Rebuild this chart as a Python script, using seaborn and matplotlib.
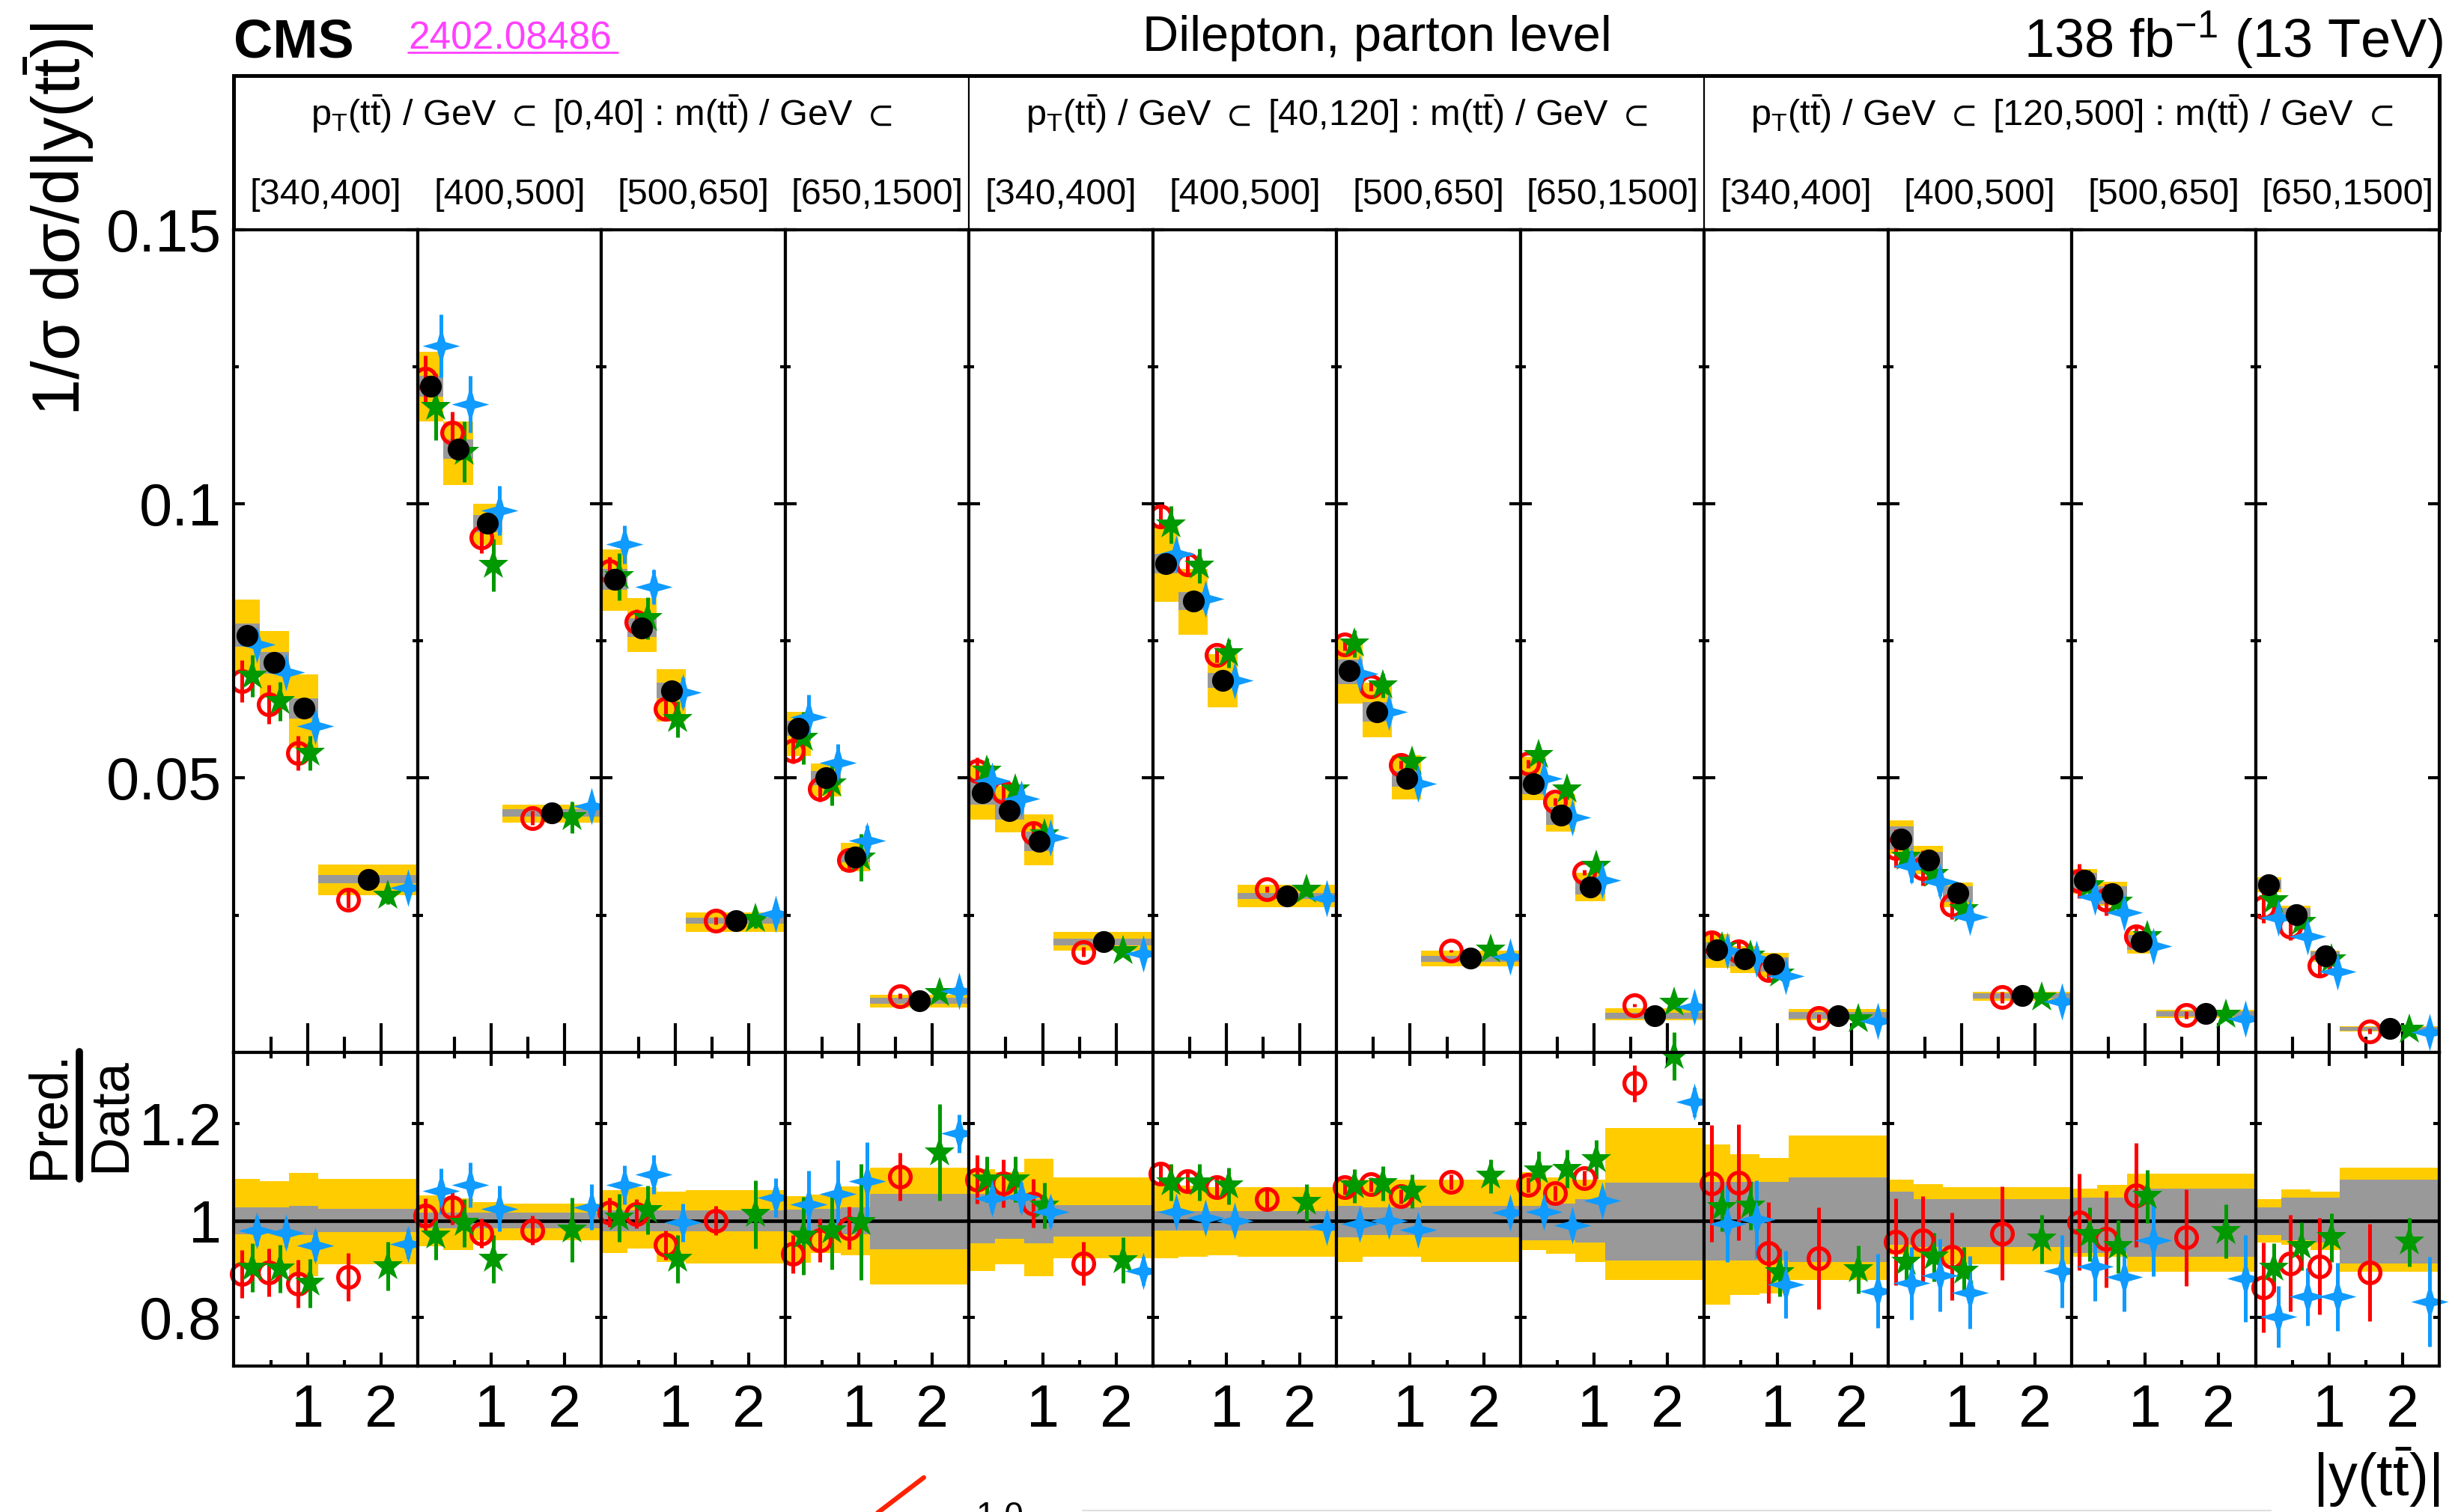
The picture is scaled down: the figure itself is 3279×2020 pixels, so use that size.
import numpy as np
import matplotlib
matplotlib.use("Agg")
import matplotlib.pyplot as plt
from matplotlib.path import Path
from matplotlib.lines import Line2D
import seaborn as sns

# ---------------------------------------------------------------- data
pt_bins = ["[0,40]", "[40,120]", "[120,500]"]
mtt_bins = ["[340,400]", "[400,500]", "[500,650]", "[650,1500]"]
y_edges = [0.0, 0.35, 0.75, 1.15, 2.5]

# normalised cross section 1/sigma dsigma/d|y(tt)|, one row per (pT, m) panel
data_xsec = [
    [0.0760, 0.0710, 0.0627, 0.0315],
    [0.1214, 0.1100, 0.0964, 0.0436],
    [0.0862, 0.0774, 0.0659, 0.0240],
    [0.0591, 0.0500, 0.0356, 0.0094],
    [0.0473, 0.0441, 0.0385, 0.0201],
    [0.0891, 0.0822, 0.0678, 0.0285],
    [0.0695, 0.0621, 0.0499, 0.0171],
    [0.0490, 0.0432, 0.0301, 0.0067],
    [0.0186, 0.0170, 0.0160, 0.0067],
    [0.0389, 0.0350, 0.0290, 0.0103],
    [0.0313, 0.0289, 0.0201, 0.0070],
    [0.0306, 0.0251, 0.0175, 0.0043],
]

# relative total uncertainty (up / down)
tot_up = [
    [0.086, 0.081, 0.099, 0.086], [0.052, 0.046, 0.038, 0.036],
    [0.063, 0.069, 0.060, 0.063], [0.051, 0.054, 0.071, 0.110],
    [0.106, 0.100, 0.128, 0.090], [0.075, 0.072, 0.070, 0.070],
    [0.085, 0.085, 0.085, 0.085], [0.100, 0.090, 0.085, 0.192],
    [0.157, 0.138, 0.130, 0.176], [0.085, 0.075, 0.069, 0.069],
    [0.066, 0.074, 0.097, 0.097], [0.044, 0.065, 0.060, 0.110],
]
tot_dn = [
    [0.090, 0.090, 0.115, 0.090], [0.053, 0.060, 0.040, 0.040],
    [0.066, 0.057, 0.085, 0.088], [0.087, 0.067, 0.072, 0.132],
    [0.104, 0.090, 0.114, 0.077], [0.078, 0.074, 0.072, 0.074],
    [0.085, 0.075, 0.075, 0.085], [0.061, 0.069, 0.086, 0.123],
    [0.173, 0.154, 0.150, 0.123], [0.070, 0.075, 0.090, 0.090],
    [0.075, 0.075, 0.105, 0.105], [0.045, 0.050, 0.060, 0.105],
]
# relative statistical uncertainty (up / down)
stat_up = [
    [0.028, 0.027, 0.030, 0.024], [0.016, 0.016, 0.016, 0.016],
    [0.022, 0.022, 0.022, 0.022], [0.023, 0.025, 0.028, 0.056],
    [0.056, 0.049, 0.044, 0.032], [0.020, 0.020, 0.020, 0.020],
    [0.030, 0.028, 0.028, 0.030], [0.031, 0.035, 0.044, 0.079],
    [0.080, 0.080, 0.080, 0.090], [0.060, 0.045, 0.045, 0.045],
    [0.047, 0.047, 0.066, 0.066], [0.027, 0.047, 0.047, 0.085],
]
stat_dn = [
    [0.028, 0.027, 0.030, 0.024], [0.016, 0.016, 0.016, 0.016],
    [0.022, 0.022, 0.022, 0.022], [0.023, 0.025, 0.028, 0.059],
    [0.046, 0.038, 0.046, 0.033], [0.020, 0.020, 0.020, 0.020],
    [0.035, 0.030, 0.030, 0.035], [0.040, 0.040, 0.045, 0.082],
    [0.082, 0.082, 0.082, 0.085], [0.050, 0.055, 0.055, 0.055],
    [0.066, 0.066, 0.075, 0.075], [0.030, 0.040, 0.045, 0.088],
]

# prediction / data ratios and their uncertainties
ratio_pwg_py8 = [
    [0.890, 0.893, 0.870, 0.884], [1.011, 1.027, 0.974, 0.980],
    [1.017, 1.014, 0.950, 1.000], [0.931, 0.959, 0.985, 1.091],
    [1.085, 1.077, 1.036, 0.911], [1.097, 1.082, 1.069, 1.044],
    [1.069, 1.075, 1.050, 1.080], [1.074, 1.057, 1.088, 1.284],
    [1.077, 1.079, 0.934, 0.923], [0.956, 0.960, 0.926, 0.974],
    [0.997, 0.962, 1.053, 0.965], [0.862, 0.912, 0.906, 0.893],
]
err_pwg_py8 = [
    [0.050, 0.050, 0.050, 0.050], [0.035, 0.035, 0.030, 0.030],
    [0.030, 0.030, 0.030, 0.030], [0.040, 0.045, 0.044, 0.049],
    [0.050, 0.050, 0.050, 0.045], [0.020, 0.020, 0.020, 0.020],
    [0.015, 0.015, 0.015, 0.015], [0.015, 0.015, 0.015, 0.038],
    [0.120, 0.120, 0.105, 0.105], [0.090, 0.090, 0.090, 0.097],
    [0.100, 0.100, 0.107, 0.100], [0.093, 0.100, 0.100, 0.100],
]
ratio_pwg_h7 = [
    [0.903, 0.901, 0.871, 0.906], [0.969, 0.995, 0.921, 0.981],
    [1.006, 1.022, 0.921, 1.013], [0.969, 0.979, 0.997, 1.141],
    [1.085, 1.085, 1.031, 0.918], [1.079, 1.079, 1.072, 1.038],
    [1.072, 1.077, 1.061, 1.092], [1.104, 1.107, 1.126, 1.340],
    [1.028, 1.031, 0.893, 0.899], [0.915, 0.925, 0.896, 0.962],
    [0.972, 0.947, 1.050, 0.978], [0.903, 0.947, 0.965, 0.956],
]
err_pwg_h7 = [
    [0.050, 0.050, 0.050, 0.050], [0.050, 0.050, 0.050, 0.066],
    [0.050, 0.050, 0.050, 0.070], [0.080, 0.080, 0.120, 0.100],
    [0.047, 0.047, 0.047, 0.047], [0.038, 0.038, 0.038, 0.038],
    [0.035, 0.035, 0.035, 0.035], [0.040, 0.040, 0.040, 0.050],
    [0.050, 0.050, 0.050, 0.050], [0.050, 0.050, 0.050, 0.050],
    [0.055, 0.055, 0.055, 0.055], [0.050, 0.050, 0.050, 0.050],
]
ratio_mg5 = [
    [0.979, 0.975, 0.948, 0.952], [1.061, 1.074, 1.025, 1.028],
    [1.074, 1.096, 0.996, 1.048], [1.033, 1.055, 1.082, 1.180],
    [1.046, 1.049, 1.018, 0.896], [1.019, 1.006, 1.000, 0.987],
    [0.994, 1.000, 0.981, 1.016], [1.019, 0.991, 1.041, 1.245],
    [0.994, 1.003, 0.868, 0.855], [0.871, 0.887, 0.852, 0.896],
    [0.906, 0.884, 0.959, 0.881], [0.802, 0.843, 0.843, 0.833],
]
err_mg5 = [
    [0.030, 0.030, 0.030, 0.030], [0.047, 0.047, 0.047, 0.047],
    [0.040, 0.040, 0.040, 0.040], [0.070, 0.070, 0.080, 0.040],
    [0.030, 0.030, 0.030, 0.030], [0.015, 0.015, 0.015, 0.015],
    [0.020, 0.020, 0.020, 0.020], [0.020, 0.020, 0.020, 0.030],
    [0.080, 0.080, 0.070, 0.077], [0.075, 0.075, 0.075, 0.075],
    [0.072, 0.072, 0.074, 0.090], [0.063, 0.060, 0.070, 0.093],
]

# ---------------------------------------------------------------- style
sns.set_theme(style="ticks")
plt.rcParams.update({
    "font.family": ["Liberation Sans", "DejaVu Sans"],
    "mathtext.fontset": "custom",
    "mathtext.rm": "Liberation Sans",
    "mathtext.it": "Liberation Sans",
    "mathtext.bf": "Liberation Sans:bold",
    "mathtext.default": "regular",
    "mathtext.fallback": "stixsans",
    "axes.edgecolor": "black",
    "text.color": "black",
    "xtick.color": "black",
    "ytick.color": "black",
    "axes.linewidth": 3.0,
})

YELLOW = "#ffcc00"
GRAY = "#999999"
RED = "#ff0000"
GREEN = "#009900"
BLUE = "#0f9bff"
TICK_FS = 57

star4 = Path(
    [(0, 1), (0.22, 0.22), (1, 0), (0.22, -0.22), (0, -1), (-0.22, -0.22),
     (-1, 0), (-0.22, 0.22), (0, 1)],
    [Path.MOVETO] + [Path.LINETO] * 7 + [Path.CLOSEPOLY],
)

predictions = [
    (ratio_pwg_py8, err_pwg_py8, -0.2,
     dict(marker="o", ms=20, mfc="none", mec=RED, mew=3.8), RED),
    (ratio_pwg_h7, err_pwg_h7, 0.2,
     dict(marker="*", ms=31, mfc=GREEN, mec=GREEN, mew=0), GREEN),
    (ratio_mg5, err_mg5, 0.4,
     dict(marker=star4, ms=36, mfc=BLUE, mec=BLUE, mew=0), BLUE),
]

# ---------------------------------------------------------------- layout
fig = plt.figure(figsize=(32.79, 20.20), dpi=100)
L, R = 0.0953, 0.9936
HDR_TOP, MAIN_TOP, MAIN_BOT, RAT_BOT = 0.9502, 0.8482, 0.3041, 0.0966
n_pan = 12
pw = (R - L) / n_pan

edges = np.array(y_edges)
centers = 0.5 * (edges[:-1] + edges[1:])
widths = np.diff(edges)

# header box with the bin labels
hdr = fig.add_axes([L, MAIN_TOP, R - L, HDR_TOP - MAIN_TOP])
hdr.set_xlim(0, 12)
hdr.set_ylim(0, 1)
hdr.set_xticks([])
hdr.set_yticks([])
for s in hdr.spines.values():
    s.set_linewidth(3.6)
for xs in (4, 8):
    hdr.axvline(xs, color="black", lw=1.6)
for i, pt in enumerate(pt_bins):
    fig.text(L + (4 * i + 2) * pw, 0.9168,
             r"$p_{T}(t\bar{t})$ / GeV $\subset$ " + pt
             + r" : $m(t\bar{t})$ / GeV $\subset$",
             ha="center", va="baseline", fontsize=35)
for p in range(n_pan):
    fig.text(L + (p + 0.5) * pw, 0.8649, mtt_bins[p % 4],
             ha="center", va="baseline", fontsize=35)


def step_band(ax, lo, hi, color, z):
    ax.fill_between(edges, np.append(lo, lo[-1]), np.append(hi, hi[-1]),
                    step="post", color=color, lw=0, zorder=z)


for p in range(n_pan):
    x0 = L + p * pw
    ax = fig.add_axes([x0, MAIN_BOT, pw, MAIN_TOP - MAIN_BOT])
    rx = fig.add_axes([x0, RAT_BOT, pw, MAIN_BOT - RAT_BOT])

    d = np.array(data_xsec[p])
    tu, td = np.array(tot_up[p]), np.array(tot_dn[p])
    su, sd = np.array(stat_up[p]), np.array(stat_dn[p])

    # upper panel: data with uncertainty boxes
    step_band(ax, d * (1 - td), d * (1 + tu), YELLOW, 1)
    step_band(ax, d * (1 - sd), d * (1 + su), GRAY, 2)
    # lower panel: relative uncertainty bands
    step_band(rx, 1 - td, 1 + tu, YELLOW, 1)
    step_band(rx, 1 - sd, 1 + su, GRAY, 2)
    rx.axhline(1.0, color="black", lw=3.4, zorder=3)

    for ratios, errs, off, mstyle, col in predictions:
        r = np.array(ratios[p])
        e = np.array(errs[p])
        xp = centers + off * widths
        ax.errorbar(xp, r * d, yerr=e * d, fmt="none", ecolor=col,
                    elinewidth=3.6, capsize=0, zorder=4)
        ax.plot(xp, r * d, ls="none", zorder=5, **mstyle)
        rx.errorbar(xp, r, yerr=e, fmt="none", ecolor=col,
                    elinewidth=3.6, capsize=0, zorder=4, clip_on=False)
        rx.plot(xp, r, ls="none", zorder=5, clip_on=False, **mstyle)

    sns.scatterplot(x=centers, y=d, ax=ax, color="black", marker="o",
                    s=21 ** 2, edgecolor="black", linewidth=0, zorder=6,
                    legend=False)

    # axes ranges and ticks
    for a in (ax, rx):
        a.set_xlim(0, 2.5)
        a.set_xticks([1, 2])
        a.set_xticks([0.5, 1.5], minor=True)
        a.set_xlabel("")
        a.set_ylabel("")
        for s in a.spines.values():
            s.set_linewidth(3.0)
            s.set_zorder(10)
    ax.set_ylim(0, 0.15)
    ax.set_yticks([0.05, 0.1, 0.15])
    ax.set_yticks([0.025, 0.075, 0.125], minor=True)
    ax.tick_params(axis="x", which="both", direction="in", bottom=True,
                   top=False, labelbottom=False, width=3)
    ax.tick_params(axis="x", which="major", length=28)
    ax.tick_params(axis="x", which="minor", length=15)
    ax.tick_params(axis="y", which="both", direction="in", left=True,
                   right=True, labelleft=(p == 0), labelsize=TICK_FS,
                   pad=12, width=3)
    ax.tick_params(axis="y", which="major", length=11)
    ax.tick_params(axis="y", which="minor", length=5)

    rx.set_ylim(0.70, 1.348)
    rx.set_yticks([0.8, 1.0, 1.2])
    rx.tick_params(axis="x", which="both", direction="in", bottom=True,
                   top=True, labelbottom=True, labelsize=TICK_FS, pad=17,
                   width=3)
    rx.tick_params(axis="x", which="major", length=13)
    rx.tick_params(axis="x", which="minor", length=6)
    rx.tick_params(axis="y", which="both", direction="in", left=True,
                   right=True, labelleft=(p == 0), labelsize=TICK_FS,
                   pad=12, width=3, length=6)
    rx.set_xticklabels(["1", "2"])
    if p == 0:
        ax.set_yticklabels(["0.05", "0.1", "0.15"])
        rx.set_yticklabels(["0.8", "1", "1.2"])

# ---------------------------------------------------------------- titles
fig.text(L, 0.9619, "CMS", fontsize=52, fontweight="bold",
         ha="left", va="baseline")
fig.text(0.1662, 0.9678, "2402.08486", fontsize=37, color="#ff40ff",
         ha="left", va="baseline")
fig.add_artist(Line2D([0.1662, 0.2516], [0.9655, 0.9655],
                      transform=fig.transFigure, color="#ff40ff", lw=2.0))
fig.text(0.5611, 0.9663, "Dilepton, parton level", fontsize=48,
         ha="center", va="baseline")
fig.text(0.9951, 0.9619, r"138 fb$^{-1}$ (13 TeV)", fontsize=52,
         ha="right", va="baseline")

fig.text(0.0242, 0.985, r"1/σ dσ/d|y($t\bar{t}$)|", fontsize=64,
         rotation=90, ha="center", va="top")
fig.text(0.0203, 0.2624, "Pred.", fontsize=52, rotation=90,
         ha="center", va="center")
fig.text(0.0452, 0.2624, "Data", fontsize=52, rotation=90,
         ha="center", va="center")
fig.add_artist(Line2D([0.0323, 0.0323], [0.2203, 0.3045],
                      transform=fig.transFigure, color="black", lw=7))
fig.text(0.9936, 0.002, r"|y($t\bar{t}$)|", fontsize=56,
         ha="right", va="bottom")

# pieces of the neighbouring figure at the page edge
fig.add_artist(Line2D([0.3571, 0.3763], [-0.001, 0.0228],
                      transform=fig.transFigure, color="#ff2200", lw=4.5))
fig.text(0.3975, 0.0075, "1.0", fontsize=33, ha="left", va="top")
fig.add_artist(Line2D([0.441, 0.925], [0.0012, 0.0012],
                      transform=fig.transFigure, color="#dddddd", lw=1.5))

fig.savefig("out.png", dpi=100)
